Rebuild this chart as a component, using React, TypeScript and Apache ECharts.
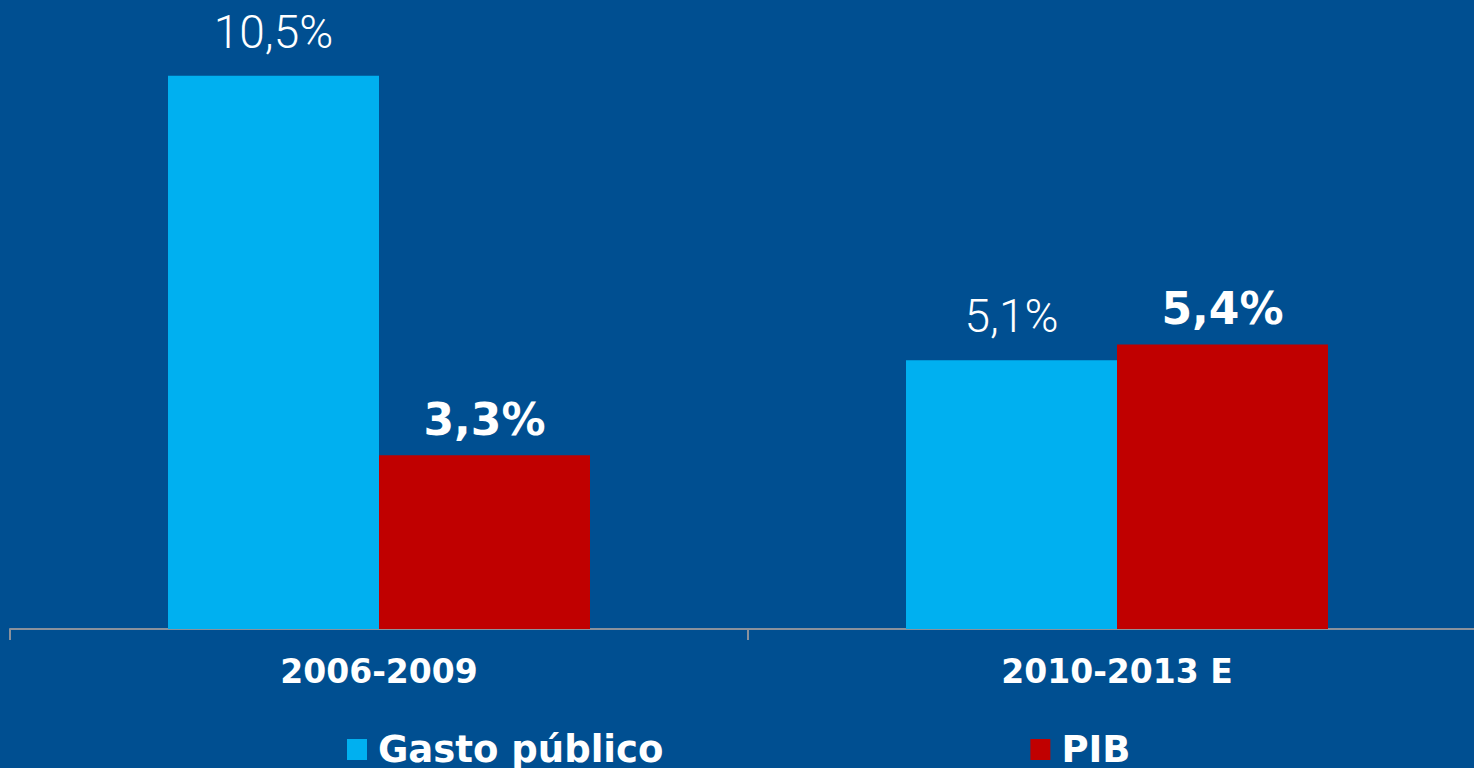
import React, { useEffect, useRef } from "react";
import * as echarts from "echarts";

const categories = ["2006-2009", "2010-2013 E"];
const gastoPublico = [10.5, 5.1];
const pib = [3.3, 5.4];
const seriesNames = ["Gasto público", "PIB"];

const fmt = (v: number) => v.toFixed(1).replace(".", ",") + "%";

export default function App() {
  const ref = useRef<HTMLDivElement>(null);
  useEffect(() => {
    if (!ref.current) return;
    const chart = echarts.init(ref.current, undefined, { renderer: "svg" });
    chart.setOption({
      animation: false,
      backgroundColor: "#004F91",
      grid: { left: 10, top: 0, width: 1476, bottom: 139 },
      legend: {
        data: seriesNames,
        left: 347,
        top: 731,
        padding: 0,
        itemGap: 367,
        itemWidth: 20,
        itemHeight: 21,
        icon: "rect",
        textStyle: {
          color: "#ffffff",
          fontFamily: "DejaVu Sans",
          fontWeight: "bold",
          fontSize: 37,
          padding: [0, 0, 0, 6],
        },
      },
      xAxis: {
        type: "category",
        data: categories,
        axisLine: { show: true, lineStyle: { color: "#8a919c", width: 2 } },
        axisTick: { show: true, length: 11, lineStyle: { color: "#8a919c", width: 2 } },
        axisLabel: {
          color: "#ffffff",
          fontFamily: "DejaVu Sans",
          fontWeight: "bold",
          fontSize: 33,
          margin: 26,
        },
      },
      yAxis: {
        type: "value",
        min: 0,
        max: 11.94,
        show: false,
        splitLine: { show: false },
      },
      series: [
        {
          name: seriesNames[0],
          type: "bar",
          data: gastoPublico,
          barWidth: 211,
          barGap: "0%",
          itemStyle: { color: "#00B0F0" },
          label: {
            show: true,
            position: "top",
            distance: 21,
            color: "#ffffff",
            fontFamily: "Roboto",
            fontWeight: 300,
            fontSize: 46,
            formatter: (p: any) => fmt(p.value),
          },
        },
        {
          name: seriesNames[1],
          type: "bar",
          data: pib,
          barWidth: 211,
          barGap: "0%",
          itemStyle: { color: "#C00000" },
          label: {
            show: true,
            position: "top",
            distance: 14,
            color: "#ffffff",
            fontFamily: "DejaVu Sans",
            fontWeight: "bold",
            fontSize: 44,
            formatter: (p: any) => fmt(p.value),
          },
        },
      ],
    });
    return () => chart.dispose();
  }, []);
  return (
    <div
      ref={ref}
      style={{ position: "fixed", left: 0, top: 0, width: 1490, height: 768 }}
    />
  );
}
